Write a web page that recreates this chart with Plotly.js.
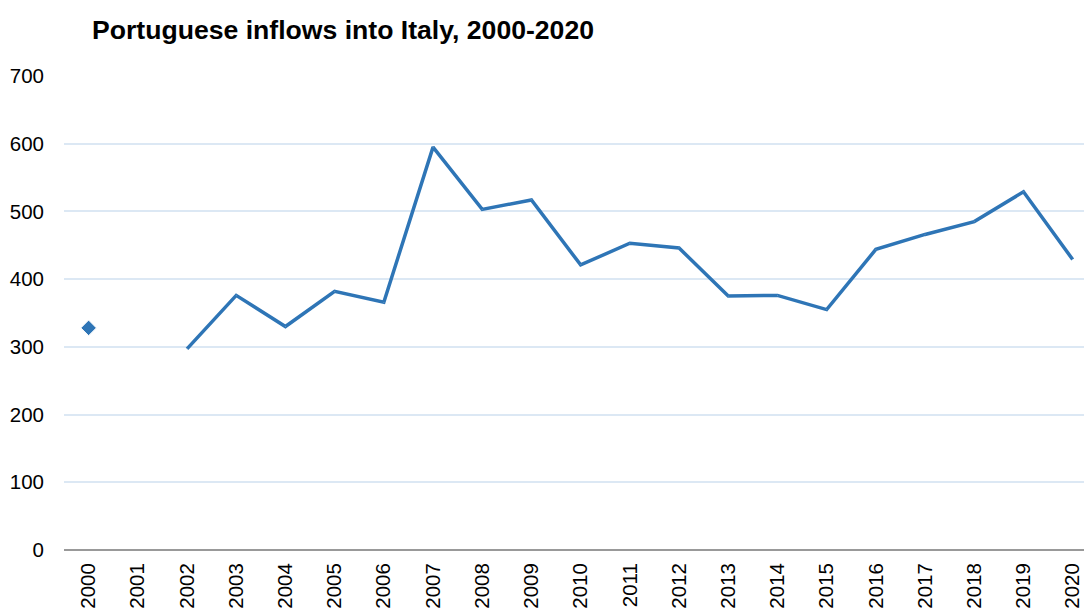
<!DOCTYPE html>
<html>
<head>
<meta charset="utf-8">
<script src="https://cdn.plot.ly/plotly-3.0.1.min.js"></script>
<style>html,body{margin:0;padding:0;background:#fff;}#chart{width:1084px;height:613px;}</style>
</head>
<body>
<div id="chart"></div>
<script>
const years = ["2000","2001","2002","2003","2004","2005","2006","2007","2008","2009","2010","2011","2012","2013","2014","2015","2016","2017","2018","2019","2020"];
const inflows = [328, null, 297, 376, 330, 382, 366, 595, 503, 517, 421, 453, 446, 375, 376, 355, 444, 466, 485, 529, 429];
const yTicks = [0, 100, 200, 300, 400, 500, 600, 700];
const chartTitle = "Portuguese inflows into Italy, 2000-2020";

const idx = years.map((_, i) => i);

const trace = {
  x: idx,
  y: inflows,
  type: "scatter",
  mode: "lines+markers",
  connectgaps: false,
  line: {color: "#2e75b6", width: 3.5},
  marker: {
    symbol: "diamond",
    color: "#2e75b6",
    opacity: 1,
    size: inflows.map((v, i) => {
      const isolated = v !== null && (i === 0 || inflows[i-1] === null) && (i === inflows.length-1 || inflows[i+1] === null);
      return isolated ? 12 : 0.1;
    })
  },
  hoverinfo: "x+y"
};

const layout = {
  width: 1084,
  height: 613,
  margin: {l: 64, r: 0, t: 76, b: 63},
  paper_bgcolor: "#ffffff",
  plot_bgcolor: "#ffffff",
  showlegend: false,
  font: {family: "Liberation Sans, Arial, sans-serif", size: 20.5, color: "#000"},
  title: {
    text: "<b>" + chartTitle + "</b>",
    x: 92 / 1084, xanchor: "left",
    y: 1 - 30 / 613, yanchor: "middle",
    font: {family: "Liberation Sans, Arial, sans-serif", size: 26.6, color: "#000"}
  },
  xaxis: {
    type: "linear",
    range: [-0.5, 20.23],
    tickvals: idx,
    ticktext: years,
    tickangle: -90,
    ticks: "",
    showgrid: false,
    zeroline: false,
    showline: false,
    ticklabelstandoff: 8,
    tickfont: {size: 20.5, color: "#000"}
  },
  yaxis: {
    range: [0, 700],
    tickvals: yTicks,
    ticktext: yTicks.map(String),
    showgrid: true,
    gridcolor: "#dce8f4",
    gridwidth: 2,
    zeroline: true,
    zerolinecolor: "#999999",
    zerolinewidth: 2.5,
    showline: false,
    ticks: "",
    ticklabelstandoff: 19,
    tickfont: {size: 20.5, color: "#000"}
  }
};

Plotly.newPlot("chart", [trace], layout, {staticPlot: true, displayModeBar: false});
</script>
</body>
</html>
